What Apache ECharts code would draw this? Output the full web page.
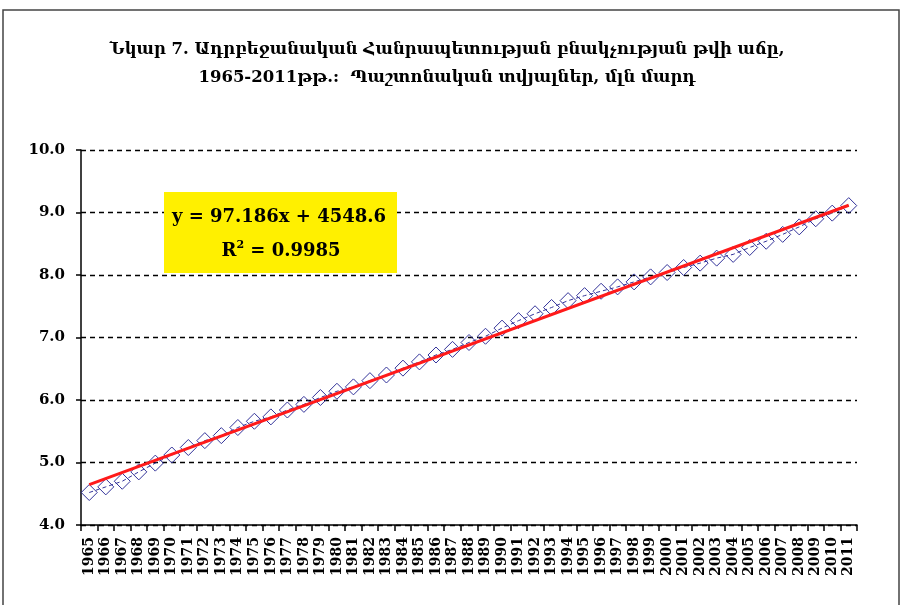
<!DOCTYPE html>
<html>
<head>
<meta charset="utf-8">
<title>Նկար 7</title>
<script src="https://cdn.jsdelivr.net/npm/echarts@6/dist/echarts.min.js"></script>
<style>
  html, body { margin: 0; padding: 0; background: #fff; }
  #chart { width: 902px; height: 605px; }
</style>
</head>
<body>
<div id="chart"></div>
<script>
// տարիներ (categories)
var years = ['1965','1966','1967','1968','1969','1970','1971','1972','1973','1974',
  '1975','1976','1977','1978','1979','1980','1981','1982','1983','1984',
  '1985','1986','1987','1988','1989','1990','1991','1992','1993','1994',
  '1995','1996','1997','1998','1999','2000','2001','2002','2003','2004',
  '2005','2006','2007','2008','2009','2010','2011'];

// բնակչություն, մլն մարդ
var population = [4.52, 4.61, 4.70, 4.85, 4.99, 5.12, 5.24, 5.35, 5.43, 5.56,
  5.66, 5.73, 5.84, 5.93, 6.04, 6.14, 6.21, 6.31, 6.40, 6.51,
  6.61, 6.72, 6.81, 6.92, 7.02, 7.15, 7.27, 7.38, 7.48, 7.59,
  7.67, 7.74, 7.81, 7.89, 7.97, 8.04, 8.12, 8.19, 8.27, 8.33,
  8.44, 8.54, 8.65, 8.77, 8.90, 8.99, 9.11];

// linear trend end values (1965, 2011)
var trendStart = 4.646;
var trendEnd = 9.116;

var yTicks = { min: 4, max: 10, step: 1 };

var titleLines = [
  'Նկար 7. Ադրբեջանական Հանրապետության բնակչության թվի աճը,',
  '1965-2011թթ.:  Պաշտոնական տվյալներ, մլն մարդ'
];
var eqLine = 'y = 97.186x + 4548.6';
var r2Value = '0.9985';

window.onload = function(){
  var trend = [];
  for(var i = 0; i < years.length; i++){
    trend.push(null);
  }
  trend[0] = trendStart;
  trend[years.length - 1] = trendEnd;

  var myChart = echarts.init(document.querySelector('#chart'), null, { renderer: 'canvas' });
  var serif = '"DejaVu Serif", serif';

  var option = {
    backgroundColor: '#fff',
    animation: false,
    title: {
      text: titleLines.join('\n'),
      left: 442,
      top: 31,
      textAlign: 'center',
      textStyle: {
        fontFamily: serif,
        fontSize: 16.5,
        fontWeight: 'bold',
        color: '#000',
        lineHeight: 28
      }
    },
    grid: { left: 81, right: 45, top: 150, bottom: 80 },
    xAxis: {
      type: 'category',
      data: years,
      boundaryGap: true,
      axisLine: { lineStyle: { color: '#000', width: 1.5 } },
      axisTick: { show: true, interval: 0, length: 6, lineStyle: { color: '#000', width: 1.5 } },
      axisLabel: {
        interval: 0,
        rotate: 90,
        margin: 12,
        fontFamily: serif,
        fontWeight: 'bold',
        fontSize: 14,
        color: '#000'
      },
      splitLine: { show: false }
    },
    yAxis: {
      type: 'value',
      min: yTicks.min,
      max: yTicks.max,
      interval: yTicks.step,
      axisLine: { show: true, lineStyle: { color: '#000', width: 1.5 } },
      axisTick: { show: true, length: 5, lineStyle: { color: '#000', width: 1.5 } },
      axisLabel: {
        margin: 16,
        fontFamily: serif,
        fontWeight: 'bold',
        fontSize: 15,
        color: '#000',
        formatter: function(v){ return v.toFixed(1); }
      },
      splitLine: { show: true, lineStyle: { color: '#000', width: 1.3, type: [5, 4] } }
    },
    series: [
      {
        name: 'population',
        type: 'line',
        data: population,
        symbol: 'diamond',
        symbolSize: 16,
        itemStyle: { color: 'rgba(0,0,0,0)', borderColor: '#33339a', borderWidth: 1 },
        lineStyle: { color: '#33339a', width: 1, type: [4, 3] },
        z: 2
      },
      {
        name: 'trend',
        type: 'line',
        data: trend,
        connectNulls: true,
        symbol: 'none',
        lineStyle: { color: '#ff1a1a', width: 3 },
        z: 3
      }
    ],
    graphic: [
      {
        type: 'rect',
        shape: { x: 3, y: 10, width: 896, height: 610 },
        style: { fill: 'none', stroke: '#444', lineWidth: 1.5 },
        silent: true
      },
      {
        type: 'rect',
        shape: { x: 164, y: 192, width: 233, height: 81 },
        style: { fill: '#fff000' },
        z: 5
      },
      {
        type: 'text',
        x: 279,
        y: 217,
        z: 6,
        style: {
          text: eqLine,
          align: 'center',
          verticalAlign: 'middle',
          fontFamily: serif,
          fontWeight: 'bold',
          fontSize: 18,
          fill: '#000'
        }
      },
      {
        type: 'text',
        x: 281,
        y: 251,
        z: 6,
        style: {
          text: '{b|R}{s|2}{b| = ' + r2Value + '}',
          align: 'center',
          verticalAlign: 'middle',
          rich: {
            b: { fontFamily: serif, fontWeight: 'bold', fontSize: 18, fill: '#000', color: '#000' },
            s: { fontFamily: serif, fontWeight: 'bold', fontSize: 11, fill: '#000', color: '#000', verticalAlign: 'top', padding: [0, 0, 12, 0] }
          }
        }
      }
    ]
  };

  myChart.setOption(option);
};
</script>
</body>
</html>
